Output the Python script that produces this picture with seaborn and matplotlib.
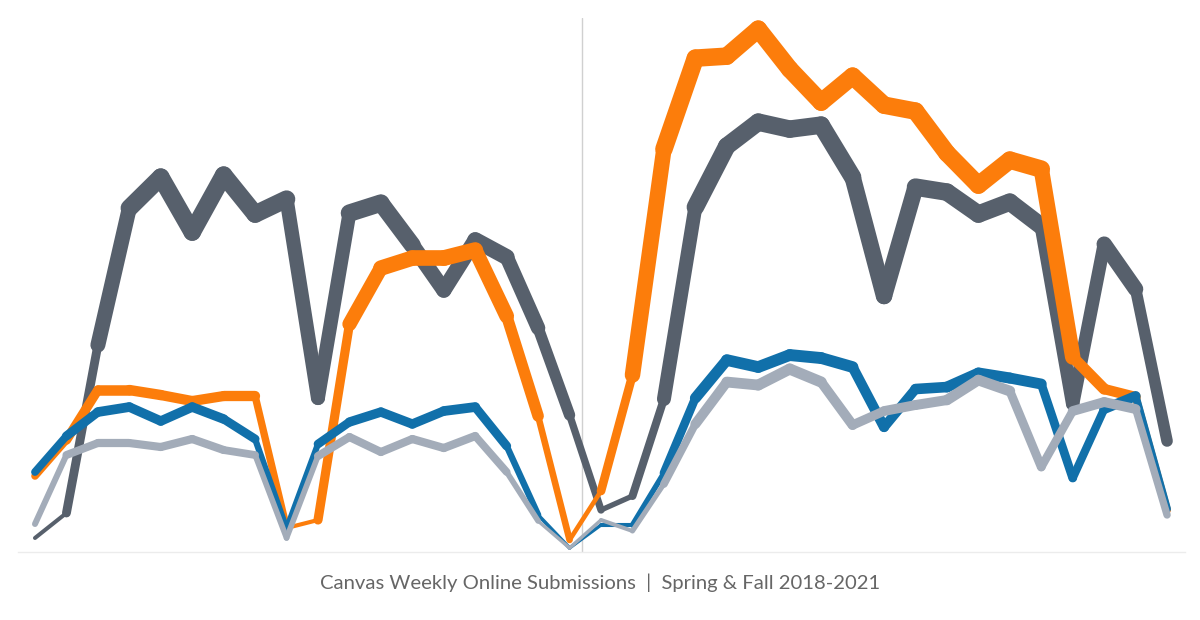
import numpy as np
import pandas as pd
import seaborn as sns
import matplotlib.pyplot as plt

# Week index across the two terms (spring weeks 0-17, fall weeks 18-36)
weeks = list(range(37))

# Weekly online submissions per series (arbitrary units)
dark_subs = [14, 39, 207, 344, 375, 320, 377, 338, 353, 154, 339, 349, 307, 262, 312, 295, 224, 137,
             42, 56, 153, 345, 406, 430, 423, 427, 375, 256, 365, 360, 338, 350, 326, 148, 308, 263, 111]
orange_subs = [76, 112, 162, 162, 157, 151, 156, 156, 24, 32, 228, 284, 294, 294, 302, 236, 136, 12,
               61, 177, 403, 494, 496, 523, 483, 450, 476, 447, 441, 399, 367, 392, 383, 195, 163, 155, 42]
blue_subs = [80, 116, 140, 145, 131, 145, 133, 113, 23, 108, 130, 140, 128, 141, 145, 106, 37, 4,
             27, 27, 79, 154, 192, 185, 197, 194, 185, 125, 163, 165, 179, 174, 168, 74, 143, 156, 43]
light_subs = [28, 97, 109, 109, 105, 113, 102, 97, 14, 96, 115, 100, 113, 104, 116, 80, 31, 4,
              32, 21, 68, 128, 170, 167, 183, 170, 127, 141, 147, 152, 172, 161, 85, 141, 150, 143, 37]

series = {"dark": dark_subs, "orange": orange_subs, "blue": blue_subs, "light": light_subs}
colors = {"dark": "#57606c", "orange": "#fc7d0b", "blue": "#1170aa", "light": "#a3acb9"}
caption = "Canvas Weekly Online Submissions  |  Spring & Fall 2018-2021"

# split every line into segments so the width can follow the value (like tableau's size shelf)
POW = 0.79
CAP = 345
rows = []
for name, vals in series.items():
    for i in range(len(vals) - 1):
        w = min((vals[i] + vals[i + 1]) / 2, CAP) ** POW
        rows.append((name, i, weeks[i], vals[i], w))
        rows.append((name, i, weeks[i + 1], vals[i + 1], w))
seg = pd.DataFrame(rows, columns=["series", "seg", "week", "subs", "width"])

sns.set_theme(style="white")
fig = plt.figure(figsize=(12, 6.2), dpi=100)
ax = fig.add_axes([0.015, 0.1097, 0.9725, 0.861])

# strokes between ~2 px and ~17.5 px
min_lw, max_lw = 0.72 * 2.0, 0.72 * 17.5
for z, name in enumerate(["dark", "orange", "blue", "light"]):
    sns.lineplot(
        data=seg[seg["series"] == name],
        x="week", y="subs",
        units="seg", estimator=None,
        size="width", sizes=(min_lw, max_lw), size_norm=(0, CAP ** POW),
        color=colors[name], legend=False,
        solid_capstyle="round", solid_joinstyle="round",
        zorder=2 + z, ax=ax,
    )

# divider between spring and fall
ax.axvline(17.4, color="#d0d0d0", lw=1, zorder=1)

ax.set_xlim(-0.54, 36.57)
ax.set_ylim(0, 534)
ax.set_xticks([])
ax.set_yticks([])
ax.set_xlabel("")
ax.set_ylabel("")
for s in ["top", "right", "left"]:
    ax.spines[s].set_visible(False)
ax.spines["bottom"].set_color("#ececec")
ax.spines["bottom"].set_linewidth(1)

fig.text(0.5, (620 - 583) / 620, caption, ha="center", va="center",
         fontsize=14.6, color="#666666", family=["Lato", "DejaVu Sans"])

fig.savefig("out.png", dpi=100)
